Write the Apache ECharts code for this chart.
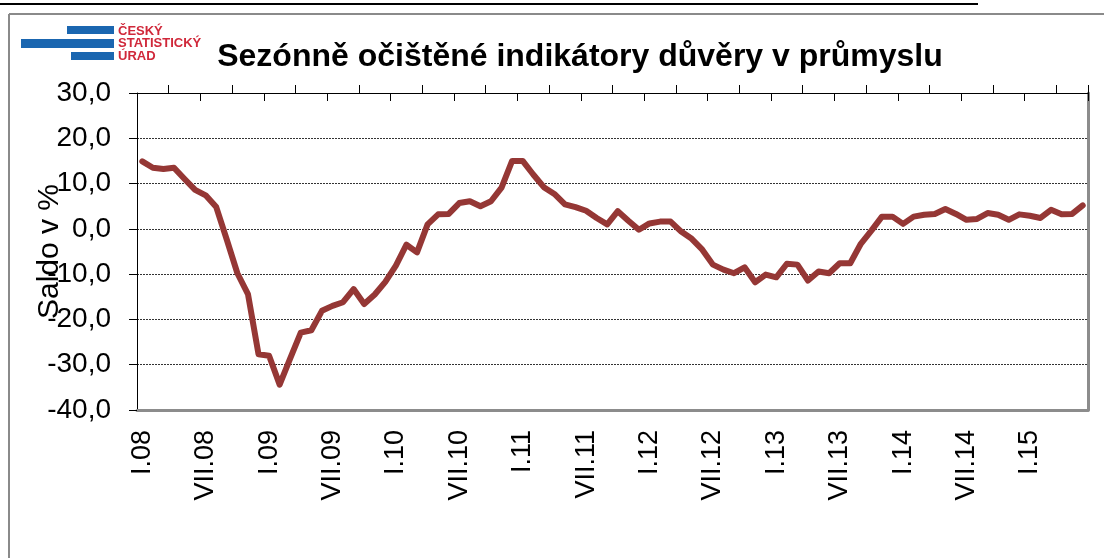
<!DOCTYPE html>
<html>
<head>
<meta charset="utf-8">
<script src="https://cdn.jsdelivr.net/npm/echarts@6/dist/echarts.min.js"></script>
<style>
  html, body { margin: 0; padding: 0; background: #fff; }
  #chart { width: 1104px; height: 558px; }
</style>
</head>
<body>
<div id="chart"></div>
<script>
// Měsíce římskými číslicemi a roky (I.08 až VI.15)
const romanMonths = ['I', 'II', 'III', 'IV', 'V', 'VI', 'VII', 'VIII', 'IX', 'X', 'XI', 'XII'];
const years = ['08', '09', '10', '11', '12', '13', '14', '15'];

// Saldo v % (sezónně očištěno)
const saldo = [
    14.9, 13.5, 13.2, 13.5, 11.0, 8.6, 7.4, 4.8, -2.4, -9.8, -14.4, -27.7,
    -28.0, -34.4, -28.6, -22.9, -22.4, -18.1, -17.0, -16.2, -13.3, -16.6, -14.5, -11.7,
    -8.1, -3.5, -5.2, 1.0, 3.2, 3.3, 5.7, 6.1, 5.0, 6.1, 9.1, 15.0,
    15.0, 12.0, 9.2, 7.7, 5.4, 4.8, 4.0, 2.4, 1.0, 3.9, 1.8, -0.2,
    1.2, 1.6, 1.6, -0.6, -2.2, -4.6, -7.9, -9.0, -9.8, -8.5, -11.8, -10.1,
    -10.7, -7.7, -7.9, -11.4, -9.4, -9.8, -7.6, -7.6, -3.3, -0.4, 2.7, 2.7,
    1.1, 2.7, 3.1, 3.3, 4.4, 3.3, 2.0, 2.2, 3.5, 3.1, 2.0, 3.2,
    2.9, 2.4, 4.2, 3.2, 3.3, 5.2
];

// Osa y
const yMin = -40, yMax = 30, yStep = 10;

// kategorie osy x
const months = [];
years.forEach(y => romanMonths.forEach(m => months.push(m + '.' + y)));
months.length = saldo.length;

const chart = echarts.init(document.getElementById('chart'));
const font = '"Liberation Sans", Arial, sans-serif';

const option = {
    backgroundColor: '#fff',
    animation: false,
    grid: { left: 137, right: 16, top: 93, bottom: 148 },
    xAxis: [{
        type: 'category',
        data: months,
        boundaryGap: true,
        position: 'bottom',
        axisLine: { onZero: false, lineStyle: { color: '#8c8c8c', width: 3 } },
        axisTick: { show: false },
        axisLabel: {
            interval: 5, rotate: 90, margin: 20,
            color: '#000', fontFamily: font, fontSize: 27
        }
    }, {
        // horní osa: ven směřující značky
        type: 'category',
        data: months,
        boundaryGap: true,
        position: 'top',
        axisLine: { onZero: false, lineStyle: { color: '#000', width: 1 } },
        axisTick: { show: true, inside: false, length: 8, interval: i => i % 6 === 3, lineStyle: { color: '#000' } },
        axisLabel: { show: false }
    }, {
        // horní osa: dovnitř směřující značky
        type: 'category',
        data: months,
        boundaryGap: true,
        position: 'top',
        axisLine: { show: false, onZero: false },
        axisTick: { show: true, inside: true, length: 8, interval: i => i > 0 && i % 6 === 0, lineStyle: { color: '#000' } },
        axisLabel: { show: false }
    }],
    yAxis: [{
        type: 'value',
        min: yMin, max: yMax, interval: yStep,
        name: 'Saldo v %',
        nameLocation: 'middle',
        nameGap: 72,
        nameMoveOverlap: false,
        nameTextStyle: { color: '#000', fontFamily: font, fontSize: 30 },
        axisLine: { show: true, lineStyle: { color: '#000', width: 1 } },
        axisTick: { show: true, length: 8, lineStyle: { color: '#000' } },
        axisLabel: {
            margin: 26, color: '#000', fontFamily: font, fontSize: 28,
            formatter: v => v.toFixed(1).replace('.', ',')
        },
        splitLine: { show: true, lineStyle: { color: '#333', width: 1, type: [2, 1] } }
    }, {
        type: 'value',
        min: yMin, max: yMax, interval: yStep,
        position: 'right',
        axisLine: { show: true, lineStyle: { color: '#8c8c8c', width: 3 } },
        axisTick: { show: false },
        axisLabel: { show: false },
        splitLine: { show: false }
    }],
    series: [{
        name: 'Indikátor důvěry v průmyslu',
        type: 'line',
        data: saldo,
        showSymbol: false,
        symbol: 'none',
        lineStyle: { color: '#953735', width: 6, cap: 'round', join: 'round' },
        z: 5
    }],
    graphic: [
        // podtržení odříznutého nadpisu nahoře
        { type: 'line', shape: { x1: 0, y1: 4, x2: 978, y2: 4 }, style: { stroke: '#000', lineWidth: 2 } },
        // rámeček
        { type: 'line', shape: { x1: 9, y1: 14, x2: 1104, y2: 14 }, style: { stroke: '#8a8a8a', lineWidth: 2 } },
        { type: 'line', shape: { x1: 9, y1: 14, x2: 9, y2: 558 }, style: { stroke: '#8a8a8a', lineWidth: 2 } },
        // logo ČSÚ
        { type: 'rect', shape: { x: 67, y: 26, width: 47, height: 8 }, style: { fill: '#1a66b0' } },
        { type: 'rect', shape: { x: 21, y: 39, width: 93, height: 9 }, style: { fill: '#1a66b0' } },
        { type: 'rect', shape: { x: 71, y: 52, width: 43, height: 8 }, style: { fill: '#1a66b0' } },
        { type: 'text', x: 118, y: 31, style: { text: 'ČESKÝ', fill: '#d0283a', font: 'bold 13px ' + font, textVerticalAlign: 'middle' } },
        { type: 'text', x: 118, y: 43.5, style: { text: 'STATISTICKÝ', fill: '#d0283a', font: 'bold 13px ' + font, textVerticalAlign: 'middle' } },
        { type: 'text', x: 118, y: 56, style: { text: 'ÚRAD', fill: '#d0283a', font: 'bold 13px ' + font, textVerticalAlign: 'middle' } },
        // nadpis
        {
            type: 'text', x: 580, y: 57,
            style: {
                text: 'Sezónně očištěné indikátory důvěry v průmyslu',
                fill: '#000', font: 'bold 32px ' + font,
                textAlign: 'center', textVerticalAlign: 'middle'
            }
        }
    ]
};

chart.setOption(option);
</script>
</body>
</html>
